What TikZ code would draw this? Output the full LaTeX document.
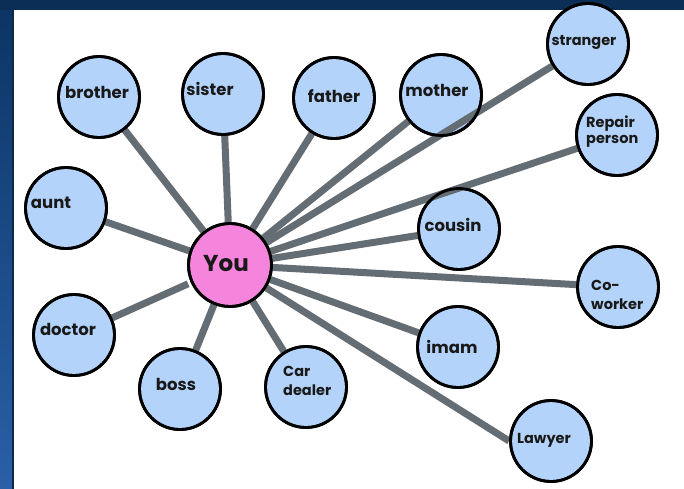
\documentclass[tikz,border=0pt]{standalone}
\usepackage{fontspec}
\setmainfont{Poppins}
\definecolor{bubble}{HTML}{B3D3FA}
\definecolor{youpink}{HTML}{F585DC}
\definecolor{spoke}{HTML}{646C74}
\definecolor{navytop}{HTML}{0A2E55}
\definecolor{navyA}{HTML}{0B3464}
\definecolor{navyB}{HTML}{2A60A8}
\definecolor{edgeline}{HTML}{0C2A4A}
\tikzset{
  bub/.style={circle,draw=black,line width=2.8pt,fill=bubble,minimum size=81pt,inner sep=0pt},
  youbub/.style={bub,fill=youpink,minimum size=83pt},
  lbl/.style={inner sep=0pt,font=\bfseries\fontsize{16.5}{19}\selectfont,text=black!90},
  lbls/.style={lbl,font=\bfseries\fontsize{14.5}{17}\selectfont},
  spk/.style={draw=spoke,line width=7pt}
}
\begin{document}
\begin{tikzpicture}[x=1pt,y=-1pt]
\useasboundingbox (0,0) rectangle (684,488);
% background frame
\shade[top color=navyA,bottom color=navyB] (0,0) rectangle (684,490);
\fill[navytop] (0,0) rectangle (686,10);
\fill[edgeline] (11.5,10) rectangle (14,490);
\fill[white] (14,10) rectangle (686,492);
% bubbles
\node[youbub] (you) at (230,265) {};
\node[bub] (brother) at (99,97) {};
\node[bub] (sister) at (223,94) {};
\node[bub] (father) at (334,98) {};
\node[bub] (mother) at (441,95) {};
\node[bub] (stranger) at (588,44) {};
\node[bub] (repair) at (617,135) {};
\node[bub] (aunt) at (66,208) {};
\node[bub] (cousin) at (459,229) {};
\node[bub] (coworker) at (618,287) {};
\node[bub] (doctor) at (74,335) {};
\node[bub] (imam) at (458,347) {};
\node[bub] (boss) at (180,389) {};
\node[bub] (cardealer) at (306,387) {};
\node[bub] (lawyer) at (551,441) {};
% spokes
\foreach \n in {brother,sister,father,mother,stranger,repair,aunt,cousin,coworker,imam,boss,cardealer}
  \draw[spk] (you) -- (\n);
\draw[spk,shorten <=3pt] (you) -- (doctor);
\draw[spk] (you) -- (lawyer.west);
% redraw bubble outlines on top of spokes
\foreach \n in {brother,sister,father,mother,stranger,repair,aunt,cousin,coworker,doctor,imam,boss,cardealer,lawyer}
  \draw[black,line width=2.8pt] (\n.center) circle[radius=40.5pt];
\draw[black,line width=2.8pt] (you.center) circle[radius=41.5pt];
% labels
\node[lbl,anchor=base,font=\bfseries\fontsize{23}{26}\selectfont] (you-t) at (226,271) {You};
\node[lbl,anchor=base] (brother-t) at (97,98) {brother};
\node[lbl,anchor=base] (sister-t) at (210,95) {sister};
\node[lbl,anchor=base] (father-t) at (334,102) {father};
\node[lbl,anchor=base] (mother-t) at (437,96) {mother};
\node[lbls,anchor=base] (stranger-t) at (584,45) {stranger};
\node[lbls,anchor=base west] (repair-t1) at (586,127) {Repair};
\node[lbls,anchor=base west] (repair-t2) at (586,143) {person};
\node[lbl,anchor=base] (aunt-t) at (51,208) {aunt};
\node[lbl,anchor=base] (cousin-t) at (453,231) {cousin};
\node[lbls,anchor=base west] (coworker-t1) at (591,290) {Co-};
\node[lbls,anchor=base west] (coworker-t2) at (591,309) {worker};
\node[lbl,anchor=base] (doctor-t) at (68,335) {doctor};
\node[lbl,anchor=base] (imam-t) at (452,353) {imam};
\node[lbl,anchor=base] (boss-t) at (176,390) {boss};
\node[lbls,anchor=base west] (car-t1) at (283,376) {Car};
\node[lbls,anchor=base west] (car-t2) at (283,395) {dealer};
\node[lbls,anchor=base] (lawyer-t) at (544,443) {Lawyer};
\end{tikzpicture}
\end{document}
